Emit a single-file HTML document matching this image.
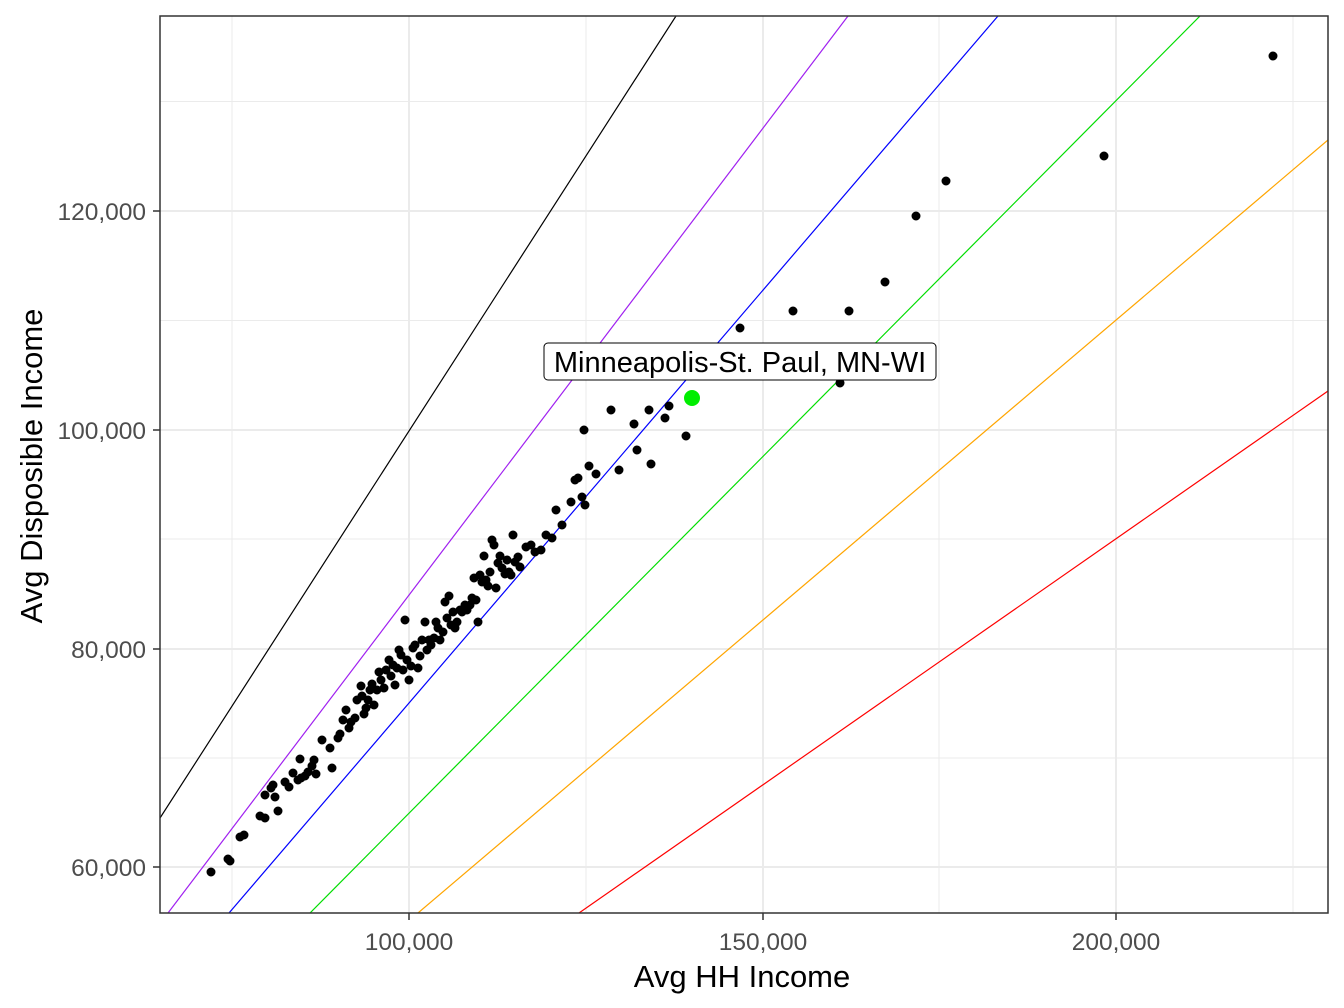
<!DOCTYPE html>
<html><head><meta charset="utf-8"><style>body{margin:0;background:#fff}svg{display:block}text{font-family:"Liberation Sans",Arial,sans-serif}</style></head><body>
<svg width="1344" height="1008" viewBox="0 0 1344 1008" xmlns="http://www.w3.org/2000/svg">
<defs><clipPath id="c"><rect x="160" y="16" width="1168" height="897"/></clipPath></defs>
<rect width="1344" height="1008" fill="#fff"/>
<g stroke="#ebebeb" stroke-width="1">
<line x1="232" y1="16" x2="232" y2="913"/><line x1="586" y1="16" x2="586" y2="913"/><line x1="939" y1="16" x2="939" y2="913"/><line x1="1293" y1="16" x2="1293" y2="913"/>
<line x1="160" y1="758" x2="1328" y2="758"/><line x1="160" y1="539" x2="1328" y2="539"/><line x1="160" y1="320.5" x2="1328" y2="320.5"/><line x1="160" y1="101.5" x2="1328" y2="101.5"/>
</g>
<g stroke="#ebebeb" stroke-width="2">
<line x1="409" y1="16" x2="409" y2="913"/><line x1="763" y1="16" x2="763" y2="913"/><line x1="1116" y1="16" x2="1116" y2="913"/>
<line x1="160" y1="211" x2="1328" y2="211"/><line x1="160" y1="430" x2="1328" y2="430"/><line x1="160" y1="649" x2="1328" y2="649"/><line x1="160" y1="867" x2="1328" y2="867"/>
</g>
<g clip-path="url(#c)" stroke-width="1.2" fill="none">
<line x1="160" y1="818" x2="676" y2="16" stroke="#000"/>
<line x1="168" y1="913" x2="848" y2="16" stroke="#a020f0"/>
<line x1="229" y1="913" x2="998" y2="16" stroke="#0000ff"/>
<line x1="310" y1="913" x2="1200" y2="16" stroke="#00dd00"/>
<line x1="418" y1="913" x2="1328" y2="140" stroke="#ffa500"/>
<line x1="579" y1="913" x2="1328" y2="391" stroke="#ff0000"/>
</g>
<path fill="none" stroke="#000" stroke-width="9" stroke-linecap="round" d="M211 872h0M228 859h0M230 861h0M240 837h0M244 835h0M260 816h0M265 818h0M265 795h0M271 788h0M275 797h0M273 785h0M278 811h0M285 782h0M289 787h0M293 773h0M298 780h0M300 759h0M301 778h0M305 776h0M308 772h0M312 766h0M314 760h0M316 774h0M322 740h0M330 748h0M332 768h0M338 738h0M340 734h0M343 720h0M346 710h0M349 728h0M351 722h0M355 718h0M357 700h0M361 686h0M362 696h0M364 714h0M366 708h0M368 700h0M370 690h0M372 684h0M374 705h0M377 690h0M379 672h0M381 680h0M384 688h0M386 670h0M389 660h0M391 676h0M393 665h0M395 685h0M397 668h0M399 650h0M401 655h0M403 670h0M405 620h0M407 660h0M409 680h0M411 666h0M413 648h0M415 645h0M418 668h0M420 656h0M422 640h0M425 622h0M427 650h0M429 640h0M431 645h0M434 638h0M436 622h0M438 628h0M440 640h0M443 632h0M445 602h0M447 618h0M449 596h0M451 625h0M453 612h0M455 628h0M457 622h0M460 610h0M462 612h0M465 605h0M467 610h0M470 605h0M472 598h0M474 578h0M476 600h0M478 622h0M480 575h0M482 582h0M484 556h0M486 580h0M488 586h0M490 572h0M492 540h0M494 545h0M496 588h0M498 563h0M500 556h0M502 568h0M505 574h0M507 560h0M509 572h0M511 575h0M513 535h0M515 562h0M518 557h0M520 567h0M526 547h0M531 545h0M535 552h0M541 550h0M546 535h0M552 538h0M556 510h0M562 525h0M571 502h0M575 480h0M578 478h0M582 497h0M585 505h0M584 430h0M589 466h0M596 474h0M611 410h0M619 470h0M634 424h0M637 450h0M649 410h0M651 464h0M665 418h0M669 406h0M686 436h0M740 328h0M793 311h0M840 383h0M849 311h0M885 282h0M916 216h0M946 181h0M1104 156h0M1273 56h0"/>
<circle cx="692" cy="398" r="8" fill="#00ee00"/>
<rect x="544" y="343" width="392" height="37" rx="4" fill="#fff" stroke="#000" stroke-width="1"/>
<text x="740" y="372" font-size="29" text-anchor="middle">Minneapolis-St. Paul, MN-WI</text>
<rect x="160" y="16" width="1168" height="897" fill="none" stroke="#333" stroke-width="1.5"/>
<g stroke="#333" stroke-width="1.5">
<line x1="409" y1="913" x2="409" y2="920"/><line x1="763" y1="913" x2="763" y2="920"/><line x1="1116" y1="913" x2="1116" y2="920"/>
<line x1="153" y1="211" x2="160" y2="211"/><line x1="153" y1="430" x2="160" y2="430"/><line x1="153" y1="649" x2="160" y2="649"/><line x1="153" y1="867" x2="160" y2="867"/>
</g>
<g font-size="24.5" fill="#4d4d4d">
<text x="409" y="950" text-anchor="middle">100,000</text><text x="763" y="950" text-anchor="middle">150,000</text><text x="1116" y="950" text-anchor="middle">200,000</text>
<text x="146" y="220" text-anchor="end">120,000</text><text x="146" y="439" text-anchor="end">100,000</text><text x="146" y="658" text-anchor="end">80,000</text><text x="146" y="876" text-anchor="end">60,000</text>
</g>
<text x="742" y="987" font-size="31" text-anchor="middle">Avg HH Income</text>
<text transform="translate(42,466) rotate(-90)" font-size="31" text-anchor="middle">Avg Disposible Income</text>
</svg>
</body></html>
